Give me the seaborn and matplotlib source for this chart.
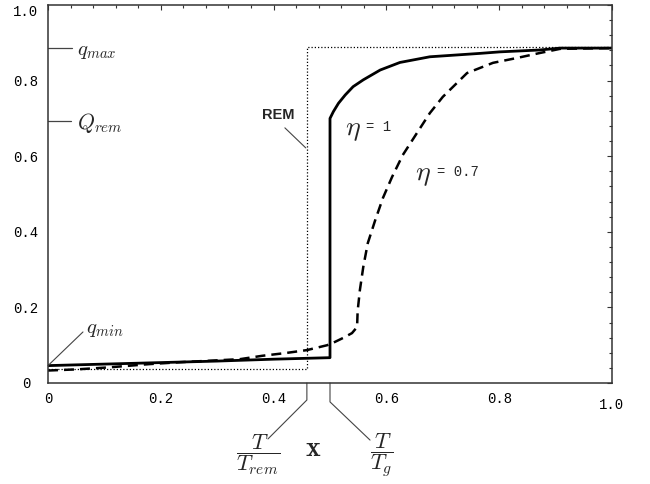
import matplotlib
matplotlib.use("Agg")
import matplotlib.pyplot as plt
from matplotlib.ticker import AutoMinorLocator
import seaborn as sns
import pandas as pd

# ---------------- data ----------------
solid_x = [0.0, 0.1, 0.2, 0.3, 0.4, 0.5, 0.5, 0.506, 0.515, 0.527, 0.541, 0.559,
           0.589, 0.624, 0.677, 0.766, 0.801, 0.872, 0.908, 1.0]
solid_y = [0.046, 0.050, 0.054, 0.058, 0.063, 0.067, 0.700, 0.718, 0.740, 0.762,
           0.784, 0.802, 0.828, 0.848, 0.863, 0.872, 0.876, 0.881, 0.886, 0.886]

dash_x = [0.0, 0.05, 0.105, 0.18, 0.234, 0.34, 0.38, 0.42, 0.459, 0.495, 0.505,
          0.523, 0.539, 0.548, 0.549, 0.553, 0.559, 0.567, 0.580, 0.594, 0.610,
          0.629, 0.654, 0.677, 0.700, 0.743, 0.789, 0.832, 0.872, 0.908, 1.0]
dash_y = [0.033, 0.036, 0.041, 0.050, 0.055, 0.063, 0.072, 0.079, 0.087, 0.100, 0.106,
          0.119, 0.132, 0.148, 0.190, 0.246, 0.307, 0.370, 0.430, 0.490, 0.545,
          0.603, 0.661, 0.714, 0.757, 0.820, 0.847, 0.860, 0.873, 0.884, 0.886]

rem_x = [0.0, 0.459, 0.459, 1.0]
rem_y = [0.037, 0.037, 0.889, 0.889]

x_ticks = [0.0, 0.2, 0.4, 0.6, 0.8, 1.0]
x_tick_labels = ["0", "0.2", "0.4", "0.6", "0.8", "1.0"]
y_ticks = [0.0, 0.2, 0.4, 0.6, 0.8, 1.0]
y_tick_labels = ["0", "0.2", "0.4", "0.6", "0.8", "1.0"]

q_max = 0.886
Q_rem = 0.694
q_min = 0.046
T_rem_x = 0.459
T_g_x = 0.5

# ---------------- style ----------------
sns.set_theme(style="white")
plt.rcParams["font.family"] = ["DejaVu Sans"]
plt.rcParams["mathtext.fontset"] = "cm"

fig = plt.figure(figsize=(6.5, 4.84), dpi=100)
ax = fig.add_axes([48 / 650, 101 / 484, 564 / 650, 378 / 484])

df_s = pd.DataFrame({"x": solid_x, "y": solid_y})
df_d = pd.DataFrame({"x": dash_x, "y": dash_y})
df_r = pd.DataFrame({"x": rem_x, "y": rem_y})

sns.lineplot(data=df_r, x="x", y="y", sort=False, estimator=None, color="black",
             lw=0.9, ax=ax)
ax.lines[-1].set_dashes((1, 1.6))
sns.lineplot(data=df_s, x="x", y="y", sort=False, estimator=None, color="black",
             lw=2.0, ax=ax)
sns.lineplot(data=df_d, x="x", y="y", sort=False, estimator=None, color="black",
             lw=1.8, ax=ax)
ax.lines[-1].set_dashes((4, 2.4))

ax.set_xlim(0, 1)
ax.set_ylim(0, 1)
ax.set_xlabel("")
ax.set_ylabel("")

mono = "Liberation Mono"
ax.set_xticks(x_ticks)
ax.set_xticklabels(x_tick_labels, family=mono, fontsize=10, color="black")
ax.set_yticks(y_ticks)
ax.set_yticklabels(y_tick_labels, family=mono, fontsize=10, color="black")
ax.get_yticklabels()[-1].set_va("top")
ax.xaxis.set_minor_locator(AutoMinorLocator(5))
ax.yaxis.set_minor_locator(AutoMinorLocator(5))
ax.tick_params(which="both", direction="in", top=True, right=True,
               color="#333333", width=0.8)
ax.tick_params(which="major", length=3.5)
ax.tick_params(which="minor", length=2.2)
ax.tick_params(axis="x", which="major", pad=6.5)
ax.tick_params(axis="y", which="major", pad=7)
ax.xaxis.get_major_ticks()[-1].set_pad(10.5)
ax.yaxis.get_major_ticks()[0].set_pad(12.5)

for s in ax.spines.values():
    s.set_color("#333333")
    s.set_linewidth(1.1)

# ---------------- annotations ----------------
lc = "#444444"
ax.plot([0, 0.043], [q_max, q_max], color=lc, lw=0.9, clip_on=False)
ax.text(0.051, q_max - 0.008, r"$q_{max}$", fontsize=15, va="center", ha="left")
ax.plot([0, 0.040], [Q_rem, Q_rem], color=lc, lw=0.9, clip_on=False)
ax.text(0.051, Q_rem - 0.006, r"$Q_{rem}$", fontsize=15.5, va="center", ha="left")
ax.plot([0, 0.062], [q_min, 0.135], color=lc, lw=0.8, clip_on=False)
ax.text(0.068, 0.143, r"$q_{min}$", fontsize=15, va="center", ha="left")

ax.text(0.408, 0.709, "REM", family="Liberation Sans", fontweight="bold",
        fontsize=10.5, ha="center", va="center")
ax.plot([0.420, 0.457], [0.675, 0.622], color=lc, lw=0.8)

ax.text(0.541, 0.672, r"$\eta$", fontsize=20, ha="center", va="center")
ax.text(0.564, 0.677, "= 1", family=mono, fontsize=10, ha="left", va="center")
ax.text(0.665, 0.553, r"$\eta$", fontsize=20, ha="center", va="center")
ax.text(0.690, 0.558, "= 0.7", family=mono, fontsize=10, ha="left", va="center")

# below-axis markers
ax.plot([T_rem_x, T_rem_x, 0.39], [0, -0.045, -0.148], color=lc, lw=0.8,
        clip_on=False)
ax.plot([T_g_x, T_g_x, 0.571], [0, -0.05, -0.151], color=lc, lw=0.8,
        clip_on=False)
ax.text(0.372, -0.19, r"$\dfrac{T}{T_{rem}}$", fontsize=16, ha="center",
        va="center")
ax.text(0.592, -0.19, r"$\dfrac{T}{T_{g}}$", fontsize=16, ha="center",
        va="center")
ax.text(0.47, -0.172, r"$\mathbf{x}$", fontsize=20, ha="center", va="center")

fig.savefig("out.png", dpi=100)
